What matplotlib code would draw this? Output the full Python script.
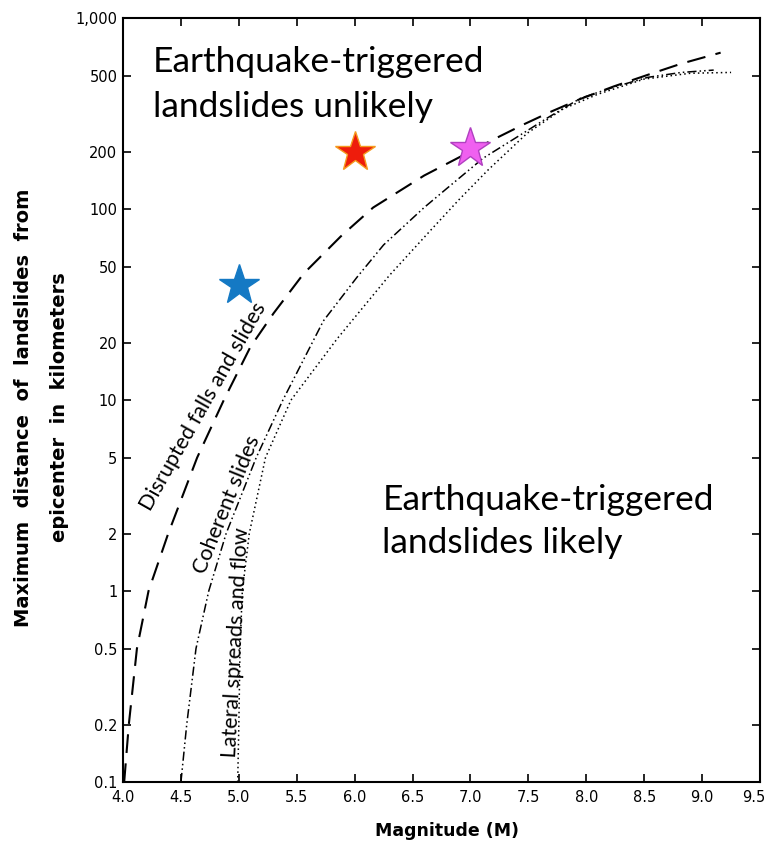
import numpy as np
import matplotlib
matplotlib.use("Agg")
import matplotlib.pyplot as plt
import matplotlib.transforms as mtransforms
from matplotlib.ticker import FixedLocator, FixedFormatter, NullLocator

# curve readings (magnitude, max distance km)
disrupted_m = [4.01, 4.05, 4.12, 4.22, 4.39, 4.64, 4.87, 5.10, 5.30, 5.56, 5.88,
               6.16, 6.60, 6.94, 7.20, 7.46, 7.70, 7.95, 8.24, 8.53, 8.82, 9.16]
disrupted_d = [0.1, 0.2, 0.5, 1, 2, 5, 10, 19, 28.5, 46, 72,
               102, 150, 192, 232, 278, 325, 378, 440, 505, 578, 660]

coherent_m = [4.50, 4.55, 4.63, 4.74, 4.89, 5.15, 5.38, 5.73, 6.02, 6.25,
              6.60, 6.80, 7.11, 7.46, 7.67, 7.95, 8.24, 8.53, 8.82, 9.10]
coherent_d = [0.1, 0.2, 0.5, 1, 2, 5, 10, 26, 44, 65,
              102, 129, 185, 251, 302, 381, 436, 490, 520, 535]

lateral_m = [4.99, 5.00, 5.01, 5.03, 5.09, 5.23, 5.45, 5.85, 6.30, 6.66,
             6.90, 7.15, 7.49, 7.80, 8.10, 8.50, 8.90, 9.25]
lateral_d = [0.1, 0.2, 0.5, 1, 2, 5, 10, 21, 45, 78,
             112, 160, 250, 335, 400, 480, 515, 520]

# stars (magnitude, distance)
star_m = [5.0, 6.0, 7.0]
star_d = [40, 200, 210]
star_fc = ["#1479c4", "#ee1c0c", "#f060f0"]
star_ec = ["#1479c4", "#f59a1e", "#b040c0"]

xticks = [4.0, 4.5, 5.0, 5.5, 6.0, 6.5, 7.0, 7.5, 8.0, 8.5, 9.0, 9.5]
yticks = [0.1, 0.2, 0.5, 1, 2, 5, 10, 20, 50, 100, 200, 500, 1000]
ylabels = ["0.1", "0.2", "0.5", "1", "2", "5", "10", "20", "50", "100", "200", "500", "1,000"]

fig = plt.figure(figsize=(7.67, 8.67), dpi=100)
ax = fig.add_axes([0.1604, 0.098, 0.8305, 0.881])

ax.plot(disrupted_m, disrupted_d, color="black", lw=1.5, dashes=(9, 5))
ax.plot(coherent_m, coherent_d, color="black", lw=1.1, dashes=(6, 2, 1, 2, 1, 2))
ax.plot(lateral_m, lateral_d, color="black", lw=1.1, dashes=(1, 2))

for m, d, fc, ec in zip(star_m, star_d, star_fc, star_ec):
    ax.plot(m, d, marker="*", ms=30, mfc=fc, mec=ec, mew=1, ls="none")

ax.set_yscale("log")
ax.set_xlim(4.0, 9.5)
ax.set_ylim(0.1, 1000)
ax.xaxis.set_major_locator(FixedLocator(xticks))
ax.xaxis.set_major_formatter(FixedFormatter(["%.1f" % t for t in xticks]))
ax.yaxis.set_major_locator(FixedLocator(yticks))
ax.yaxis.set_major_formatter(FixedFormatter(ylabels))
ax.yaxis.set_minor_locator(NullLocator())
ax.tick_params(direction="in", top=True, right=True, length=6, width=1.2,
               labelsize=10.5, pad=4)
ax.tick_params(axis="x", pad=6)
for s in ax.spines.values():
    s.set_linewidth(1.5)

# keep last x label inside the figure
fig.canvas.draw()
last = ax.get_xticklabels()[-1]
last.set_transform(last.get_transform() +
                   mtransforms.ScaledTranslation(-6 / 100, 0, fig.dpi_scale_trans))

txtfont = "Lato"
ax.text(4.26, 521, "Earthquake-triggered", fontsize=25.5, family=txtfont,
        va="baseline", ha="left")
ax.text(4.26, 303, "landslides unlikely", fontsize=25.5, family=txtfont,
        va="baseline", ha="left")
ax.text(6.24, 2.65, "Earthquake-triggered", fontsize=25.5, family=txtfont,
        va="baseline", ha="left")
ax.text(6.24, 1.58, "landslides likely", fontsize=25.5, family=txtfont,
        va="baseline", ha="left")

# curve labels
ax.text(4.69, 9.3, "Disrupted falls and slides", rotation=60.5, fontsize=15.5,
        family=txtfont, ha="center", va="center", rotation_mode="anchor")
ax.text(4.90, 2.85, "Coherent slides", rotation=68, fontsize=15.5,
        family=txtfont, ha="center", va="center", rotation_mode="anchor")
ax.text(4.98, 0.54, "Lateral spreads and flow", rotation=87, fontsize=15.5,
        family=txtfont, ha="center", va="center", rotation_mode="anchor")

fig.text(0.583, 0.042, "Magnitude (M)", fontsize=12.5, ha="center", va="center",
         weight="bold", family="DejaVu Sans")
fig.text(0.03, 0.53, "Maximum  distance  of  landslides  from", fontsize=14,
         rotation=90, ha="center", va="center", weight="bold", family="DejaVu Sans")
fig.text(0.078, 0.53, "epicenter  in  kilometers", fontsize=14,
         rotation=90, ha="center", va="center", weight="bold", family="DejaVu Sans")

fig.savefig("out.png", dpi=100)
